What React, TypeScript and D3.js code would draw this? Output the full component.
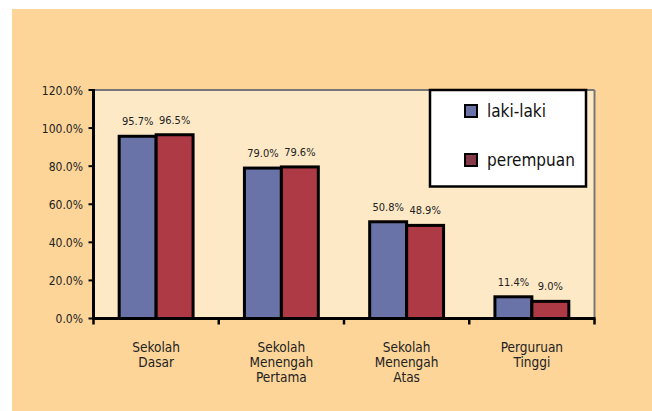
import * as d3 from "d3";

const categories = [
  ["Sekolah", "Dasar"],
  ["Sekolah", "Menengah", "Pertama"],
  ["Sekolah", "Menengah", "Atas"],
  ["Perguruan", "Tinggi"],
];
const seriesNames = ["laki-laki", "perempuan"];
const lakiLaki = [95.7, 79.0, 50.8, 11.4];
const perempuan = [96.5, 79.6, 48.9, 9.0];
const yTicks = [0, 20, 40, 60, 80, 100, 120];

const W = 652;
const H = 411;
const FONT = "'DejaVu Sans Condensed', 'DejaVu Sans', sans-serif";
const barColors = ["#6973a8", "#ad3a45"];
const legendColors = ["#6973a8", "#843a48"];

const App = () => {
  const left = 93.5;
  const right = 594.5;
  const top = 90;
  const bottom = 318.5;

  const keys = categories.map((c) => c.join(" "));
  const x = d3.scaleBand<string>().domain(keys).range([left, right]).paddingInner(0.41).paddingOuter(0.205);
  const xs = d3.scaleBand<string>().domain(seriesNames).range([0, x.bandwidth()]);
  const y = d3.scaleLinear().domain([0, 120]).range([bottom, top]);
  const fmt = d3.format(".1f");
  const series = [lakiLaki, perempuan];
  const step = (right - left) / categories.length;

  return (
    <svg width={W} height={H} style={{ position: "absolute", left: 0, top: 0, fontFamily: FONT, fontStretch: "condensed" }}>
      <rect x={0} y={0} width={W} height={H} fill="#fff" />
      <rect x={12} y={9} width={W - 12} height={H - 9} fill="#fdd599" />
      <rect x={left} y={top} width={right - left} height={bottom - top} fill="#fee9c6" />
      <line x1={left} x2={right} y1={top} y2={top} stroke="#777" strokeWidth={2} />
      <line x1={right} x2={right} y1={top} y2={bottom} stroke="#777" strokeWidth={2} />

      {keys.map((k, ci) =>
        seriesNames.map((s, si) => {
          const v = series[si][ci];
          const bx = (x(k) ?? 0) + (xs(s) ?? 0);
          return (
            <g key={k + s}>
              <rect
                x={bx}
                y={y(v)}
                width={xs.bandwidth()}
                height={bottom - y(v)}
                fill={barColors[si]}
                stroke="#000"
                strokeWidth={3}
              />
              <text x={bx + xs.bandwidth() / 2} y={y(v) - 11} fontSize={11} textAnchor="middle" fill="#222">
                {fmt(v)}%
              </text>
            </g>
          );
        })
      )}

      {/* y axis */}
      <line x1={left} x2={left} y1={top - 1} y2={bottom + 1.5} stroke="#000" strokeWidth={3} />
      {yTicks.map((t) => (
        <g key={t}>
          <line x1={left - 5} x2={left} y1={y(t)} y2={y(t)} stroke="#000" strokeWidth={2} />
          <text x={83} y={y(t) + 4.5} fontSize={12} textAnchor="end" fill="#222">
            {fmt(t)}%
          </text>
        </g>
      ))}

      {/* x axis */}
      <line x1={left - 1.5} x2={right + 1} y1={bottom} y2={bottom} stroke="#000" strokeWidth={3} />
      {d3.range(categories.length + 1).map((i) => (
        <line key={i} x1={left + i * step} x2={left + i * step} y1={bottom} y2={bottom + 6} stroke="#000" strokeWidth={2.5} />
      ))}
      {categories.map((lines, ci) => (
        <text key={ci} x={(x(keys[ci]) ?? 0) + x.bandwidth() / 2} y={352} fontSize={13.5} textAnchor="middle" fill="#222">
          {lines.map((l, li) => (
            <tspan key={li} x={(x(keys[ci]) ?? 0) + x.bandwidth() / 2} dy={li === 0 ? 0 : 15}>
              {l}
            </tspan>
          ))}
        </text>
      ))}

      {/* legend */}
      <rect x={430} y={90} width={156} height={96.5} fill="#fff" stroke="#000" strokeWidth={2.5} />
      {seriesNames.map((s, i) => (
        <g key={s}>
          <rect x={465} y={105 + i * 49} width={12} height={12} fill={legendColors[i]} stroke="#000" strokeWidth={2} />
          <text x={487} y={117 + i * 49} fontSize={17} fill="#111">
            {s}
          </text>
        </g>
      ))}
    </svg>
  );
};

export default App;
